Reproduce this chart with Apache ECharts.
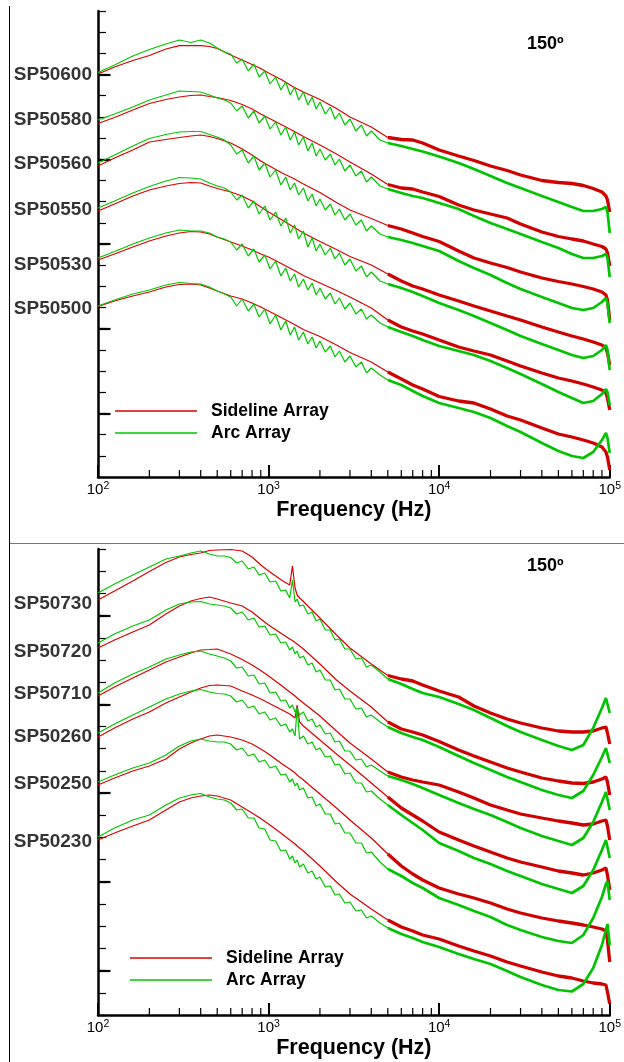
<!DOCTYPE html>
<html><head><meta charset="utf-8">
<script src="https://cdn.jsdelivr.net/npm/echarts@6/dist/echarts.min.js"></script>
<style>html,body{margin:0;padding:0;background:#fff}#c{width:624px;height:1062px}</style>
</head><body><div id="c"></div>
<script>
// ---------------- frequency grids (Hz) ----------------
const freqSidelineTop = [100,125,160,200,250,300,350,400,450,500,600,700,800,900,1000,1200,1400,1600,2000,2500,3000,4000,5000];
const freqArcTop = [100,125,160,200,250,300,350,400,450,500,550,600,650,700,760,820,880,950,1020,1100,1180,1260,1340,1420,1500,1600,1700,1800,1900,2000,2150,2300,2450,2600,2800,3000,3250,3500,3750,4000,4500,5000];
const freqSidelineBottom = [100,125,160,200,250,300,350,400,450,500,600,700,800,900,1000,1200,1330,1380,1430,1470,1520,1600,2000,2500,3000,4000,5000];
const freqArcBottom = [100,125,160,200,250,300,350,400,450,500,550,600,650,700,760,820,880,950,1020,1100,1180,1260,1330,1380,1430,1470,1520,1600,1700,1800,1900,2000,2150,2300,2450,2600,2800,3000,3250,3500,3750,4000,4500,5000];
const freqHigh = [5000,6000,7000,8000,10000,13000,16000,20000,25000,30000,40000,50000,60000,70000,80000,90000,95000,97000,100000];
const xTickDecades = [100,1000,10000,100000];
const xMinorTicks = [200,300,400,500,600,700,800,900,2000,3000,4000,5000,6000,7000,8000,9000,20000,30000,40000,50000,60000,70000,80000,90000];

// ---------------- labels ----------------
const topMics = ['SP50600','SP50580','SP50560','SP50550','SP50530','SP50500'];
const bottomMics = ['SP50730','SP50720','SP50710','SP50260','SP50250','SP50230'];
const topLabelLevels = [402,357,313,267,212,168.7];
const bottomLabelLevels = [411.7,363.3,321,278.3,231,173.3];
const angleLabel = '150º';
const seriesNames = ['Sideline Array','Arc Array'];
const levelMax = 466;          // relative level range (arbitrary units)
const topMinorCount = 22, bottomMinorCount = 21;
const topMajorSteps = [3,7,11,15,19], bottomMajorSteps = [2,6,10,14,18];

// ---------------- top panel levels ----------------
const side50600Lo = [403,410,416.5,421.5,428,431.3,431.5,431.3,430.5,428.5,422,417,412.5,408.5,404,397,390,385,377.5,368.5,360,350,339.5];
const side50580Lo = [353.5,359.5,367,373.5,377.5,380,381.5,382,380.5,379.5,376.5,372.5,368,363,359,352,346,340.5,332,323,315,303,292.5];
const side50560Lo = [311,319,327,335,337.5,339.5,341,342,340.5,338.5,334,328,322,316,311.5,304,298.5,293,284.5,274.5,267,258.5,251.5];
const side50550Lo = [266,273,281,287,291,293.5,294.5,294,291,288.5,285,281,276,270,265,257,250,244,235.5,227.5,220.5,212,203];
const side50530Lo = [217,223,230,236,241,244,245.5,245,243,240,235,231,227,223,220,213,207,201.5,194,186.5,180,169,157];
const side50500Lo = [170.5,176,181,185,190,192.5,193,192,189,186,181,178,174,170,166,159,153,147.5,140.5,132,124.5,115,105];

const side50600Hi = [339.5,337.5,337,334,327,321,316.5,311,306.5,302,296.5,294.5,293.5,291.5,288.5,285,281,277,265];
const side50580Hi = [292.5,289,288,285,280.5,272,267,263,259,253,245,240.5,238,236,233,230.5,228,224,211];
const side50560Hi = [251.5,248,244,240.5,235.5,226,219,214,209.5,205,199,195.5,193,190.5,188,185,182,177,157];
const side50550Hi = [203,196,191,188,182,176,171,166,161,157,150,145,141,138,135,132,129,124,112];
const side50530Hi = [157,150,146,143,137,130,126,122,116,111,104,99,96,93,90,87,84,79,67];
const side50500Hi = [105,98,92,88,80.5,76,74,68,61,57,49,43,40,37,34,30,25,20,7];

const arc50600Lo = [404.5,412,421,427.5,433,437,434.5,437,434,429,425,423,414,418,406,413,400,406,393,400,387,395,382,390,377,385,372,380,368,375,363,370,358,364,352,358,346,352,341,346,337,334];
const arc50580Lo = [357,363,370,377,382,386,385.5,385,382,379,377,374,366,371,359,366,354,361,348,355,342,350,337,345,332,340,326,334,321,328,317,323,312,318,306,312,301,306,295,300,291,288];
const arc50560Lo = [314,322,331,338.5,342.5,345,345.5,345.5,342.5,340,337,332,323,327,314,321,307,314,300,307,292,300,287,294,282,289,276,283,271,278,267,273,262,268,257,263,252,257,246,251,243,240];
const arc50550Lo = [269,276,284,290.5,296,299.5,299,298,294,291,289,285,277,282,269,276,263,271,257,265,251,259,244,252,238,246,230,239,226,233,222,229,218,224,212,218,206,211,200,205,196,193];
const arc50530Lo = [219,225.5,233,239,244,247,246,246,244,240,238,235,227,233,221,228,215,222,208,216,201,209,196,203,190,198,187,194,182,189,178,184,173,179,168,174,163,168,158,162,154,150];
const arc50500Lo = [171,177,183,187,192,194.5,193.5,193,190,186,183,180,171,178,166,173,160,168,153,162,147,156,142,150,137,145,133,140,129,136,125,131,120,126,115,121,110,115,104,109,102,97];

const arc50600Hi = [334,331,328,325.5,320.5,314,308,301,294,289,281,275,270,266,266,268,270,265,244];
const arc50580Hi = [288,284,281,279,274,268,261,254,248,243,235,229,223,219,219,221,223,219,200];
const arc50560Hi = [240,237,234,231,226,216,209,202,194,188,180,174,169,167,169,175,179,174,154];
const arc50550Hi = [193,189,185,181,174,167,161,154,147,141,133,127,122,119,121,127,132,127,107];
const arc50530Hi = [150,145,141,137,131,126,122,116,109,103,93,85,79,74,76,83,88,85,72];
const arc50500Hi = [97,92,86,81,74,69,65,59,51,45,34,26,21,19,25,37,44,39,24];

// ---------------- bottom panel levels ----------------
const side50730Lo = [415,424,434,443.5,452.5,458,460.5,462,464.5,465,465.5,464,458,450,444,434.5,430,449,427,420,417,413.5,397,380,367,351,339.5];
const side50720Lo = [367,375,383,390,401,409,414,416.5,418,416,412,409,403,396,390,381,376,374.5,372.5,371,369,366,351,335,324,308,293];
const side50710Lo = [319,328,337,345,353,358,362,365,365.5,366,361,355.5,350,344.5,339,329,323,321,319,317,315,312,299,284,272,256,243];
const side50260Lo = [278,287,296,303,312,318,323,327,329.5,330,329,324,320,316,312,305,301,299,297,310,293,289,275,261,250,232,218];
const side50250Lo = [230,237,244,249,256,266,272,276,279,280,278,275,271,266,261,251,246,244,242,240,238,235,221,207,195,177,161];
const side50230Lo = [175,182,189,195,205,213,217,219,220,219,215,208,202,196.5,191,181,175,173,171,169,167,164,149,133,121,106,95];

const side50730Hi = [339.5,336,334,330,324,318,309,302,296,292,287,284,283,283,284,287,288,282,271];
const side50720Hi = [293,286,283,280,273.5,265,259,253,247,243,237,234,232,231.5,233,236,238,233,220];
const side50710Hi = [243,238,235,233,230,223,217,210,205,201,197,194,192,190,191,194,195,189,175];
const side50260Hi = [218,207,200,194,183,175,169,163,157,153,148,144,142,140,142,145,147,140,125];
const side50250Hi = [161,149,141,135,127,121,117,112,106,102,97,94,92,90,88,86,84,75,53];
const side50230Hi = [95,88,84,80,76,69,64,59,53,49,43,39,37,34,32,31,30,23,11];

const arc50730Lo = [422,431,440,448,456,459,462,464,461,459,459,457.5,452,454,446,448,440,442,433,434,424,425,417,435,413,416,409,410,401,403,394,396,385,385,375,376,366,366,356,357,348,350,343,336];
const arc50720Lo = [372,381,389,395,405,411,413,413.5,411,410,409,407,401,403,395,397,388,389,380,381,372,373,365,368,361,364,357,359,350,352,343,345,335,335,325,326,316,316,306,307,298,300,293,288];
const arc50710Lo = [322,332,341,348,356,360,363,364,361,359,357,354,347,348,339,340,331,332,322,323,314,315,307,310,303,307,300,303,294,296,288,290,281,282,273,274,264,264,255,256,248,250,244,239];
const arc50260Lo = [282,291,300,308,316,321,324,325.5,323,321.5,321,319,313,315,307,309,301,303,295,297,289,291,283,286,279,307,276,279,271,273,265,267,258,259,250,251,241,242,232,232,223,224,216,210];
const arc50250Lo = [233,240,247,252,260,269,274,276,274,273,273,271,265,267,259,261,253,255,247,249,240,241,233,236,229,232,225,227,217,218,209,211,201,201,191,192,182,182,172,172,162,163,153,146];
const arc50230Lo = [178,187,195,200,210,217,220,221.5,218,216,215,212,205,206,197,197,187,186,175,174,164,165,156,159,152,155,148,151,142,144,136,138,128,129,120,121,112,113,104,105,97,99,92,87];

const arc50730Hi = [336,331,326,322,318,311,305,297,289,283,275,269,265,270,287,307,317,318,302];
const arc50720Hi = [288,282,278,275,268,259,252,245,238,233,225,220,217,224,240,258,267,268,252];
const arc50710Hi = [239,235,231,227,220,212,206,200,193,187,179,174,170,177,193,213,223,224,205];
const arc50260Hi = [210,200,192,185,172,164,157,151,144,139,131,126,122,129,145,165,175,177,157];
const arc50250Hi = [146,139,132,127,117,110,104,98,90,85,78,74,72,80,97,118,131,134,115];
const arc50230Hi = [87,81,77,73,68,61,56,51,44,38,30,25,23.5,31,47,70,85,91,70];

// ---------------- build ----------------
const RED = '#dc0000', GREEN = '#00c800';
const FONT = 'Liberation Sans, Arial, sans-serif';

const panels = [
  { mics: topMics, labels: topLabelLevels, minorCount: topMinorCount, majorSteps: topMajorSteps,
    sideFreq: freqSidelineTop, arcFreq: freqArcTop,
    sideLo: [side50600Lo,side50580Lo,side50560Lo,side50550Lo,side50530Lo,side50500Lo],
    sideHi: [side50600Hi,side50580Hi,side50560Hi,side50550Hi,side50530Hi,side50500Hi],
    arcLo: [arc50600Lo,arc50580Lo,arc50560Lo,arc50550Lo,arc50530Lo,arc50500Lo],
    arcHi: [arc50600Hi,arc50580Hi,arc50560Hi,arc50550Hi,arc50530Hi,arc50500Hi] },
  { mics: bottomMics, labels: bottomLabelLevels, minorCount: bottomMinorCount, majorSteps: bottomMajorSteps,
    sideFreq: freqSidelineBottom, arcFreq: freqArcBottom,
    sideLo: [side50730Lo,side50720Lo,side50710Lo,side50260Lo,side50250Lo,side50230Lo],
    sideHi: [side50730Hi,side50720Hi,side50710Hi,side50260Hi,side50250Hi,side50230Hi],
    arcLo: [arc50730Lo,arc50720Lo,arc50710Lo,arc50260Lo,arc50250Lo,arc50230Lo],
    arcHi: [arc50730Hi,arc50720Hi,arc50710Hi,arc50260Hi,arc50250Hi,arc50230Hi] }
];

const zip = (f, v) => f.map((x, i) => [x, v[i]]);
function lineSeries(name, color, width, data, g, z) {
  return { type: 'line', name, xAxisIndex: g * 2, yAxisIndex: g * 2, data, symbol: 'none', showSymbol: false,
    lineStyle: { color, width }, itemStyle: { color }, silent: true, z, clip: false };
}

const grids = [], xAxes = [], yAxes = [], series = [], titles = [], legends = [];
const gridTops = [11, 549];
const legendPos = [{ left: 115, top: 401 }, { left: 130, top: 948 }];
const titleTops = [35, 557];

panels.forEach((p, g) => {
  grids.push({ left: 98, top: gridTops[g], width: 513, height: levelMax });
  xAxes.push({
    type: 'log', logBase: 10, min: xTickDecades[0], max: xTickDecades[3], gridIndex: g, position: 'bottom',
    axisLine: { onZero: false, lineStyle: { color: '#000', width: 2.5 } },
    axisTick: { inside: true, length: 12, lineStyle: { color: '#000', width: 2 } },
    splitLine: { show: false }, minorTick: { show: false },
    axisLabel: { color: '#000', margin: 4, fontFamily: FONT,
      formatter: v => '{b|10}{s|' + Math.round(Math.log10(v)) + '}',
      rich: { b: { fontSize: 15, lineHeight: 18, fontFamily: FONT, color: '#000' },
              s: { fontSize: 10.5, lineHeight: 10, verticalAlign: 'top', fontFamily: FONT, color: '#000' } } },
    name: 'Frequency (Hz)', nameLocation: 'middle', nameGap: 22,
    nameTextStyle: { color: '#000', fontSize: 21.5, fontWeight: 'bold', fontFamily: FONT }
  });
  xAxes.push({
    type: 'value', min: Math.log10(xTickDecades[0]), max: Math.log10(xTickDecades[3]), gridIndex: g, position: 'bottom',
    axisLine: { show: false, onZero: false }, axisLabel: { show: false }, splitLine: { show: false },
    axisTick: { show: false }
  });
  const step = levelMax / p.minorCount;
  yAxes.push({
    type: 'value', min: 0, max: levelMax, interval: step, gridIndex: g, position: 'left',
    axisLine: { show: true, onZero: false, lineStyle: { color: '#000', width: 2.5 } },
    axisTick: { show: true, inside: true, length: 8, lineStyle: { color: '#000', width: 1.2 } },
    axisLabel: { show: false }, splitLine: { show: false }
  });
  yAxes.push({
    type: 'value', min: 0, max: levelMax, gridIndex: g, position: 'left',
    axisLine: { show: false }, axisLabel: { show: false }, splitLine: { show: false },
    axisTick: { show: true, inside: true, length: 12.5, lineStyle: { color: '#000', width: 2.2 },
      customValues: p.majorSteps.map(k => k * step) }
  });
  p.mics.forEach((m, i) => series.push(lineSeries(seriesNames[0], RED, 1.2, zip(p.sideFreq, p.sideLo[i]), g, 2)));
  p.mics.forEach((m, i) => series.push(lineSeries(seriesNames[1], GREEN, 1.2, zip(p.arcFreq, p.arcLo[i]), g, 3)));
  p.mics.forEach((m, i) => series.push(lineSeries(seriesNames[0], '#d00000', 3.3, zip(freqHigh, p.sideHi[i]), g, 2)));
  p.mics.forEach((m, i) => series.push(lineSeries(seriesNames[1], '#00c400', 2.7, zip(freqHigh, p.arcHi[i]), g, 3)));
  // minor frequency ticks (2..9 x decade) placed through the log axis
  series.push({
    type: 'custom', name: 'xminor' + g, xAxisIndex: g * 2, yAxisIndex: g * 2, silent: true, z: 5, clip: false,
    data: xMinorTicks.map(f => [f, 0]),
    renderItem: (params, api) => {
      const pt = api.coord([api.value(0), api.value(1)]);
      return { type: 'line', shape: { x1: pt[0], y1: pt[1], x2: pt[0], y2: pt[1] - 7 },
        style: { stroke: '#000', lineWidth: 1.2 } };
    }
  });
  series.push({
    type: 'scatter', name: 'mics' + g, xAxisIndex: g * 2, yAxisIndex: g * 2, symbolSize: 0, silent: true,
    data: p.mics.map((m, i) => ({ value: [xTickDecades[0], p.labels[i]], name: m })),
    label: { show: true, position: 'left', distance: 6, formatter: d => d.name,
      color: '#000', fontSize: 19, fontWeight: 'bold', fontFamily: FONT }
  });
  titles.push({ text: angleLabel, left: 527, top: titleTops[g], padding: 0,
    textStyle: { color: '#000', fontSize: 18, fontWeight: 'bold', fontFamily: FONT } });
  legends.push({ data: seriesNames, orient: 'vertical', left: legendPos[g].left, top: legendPos[g].top,
    icon: 'rect', itemWidth: 82, itemHeight: 1.5, itemGap: 2, selectedMode: false, padding: 0,
    textStyle: { color: '#000', fontSize: 17.5, fontWeight: 'bold', fontFamily: FONT, lineHeight: 20, padding: [0, 0, 0, 9] } });
});

const chart = echarts.init(document.getElementById('c'), null, { renderer: 'canvas' });
chart.setOption({
  animation: false,
  backgroundColor: '#fff',
  textStyle: { fontFamily: FONT },
  title: titles, legend: legends, grid: grids, xAxis: xAxes, yAxis: yAxes, series,
  graphic: [
    { type: 'line', silent: true, shape: { x1: 9.5, y1: 6, x2: 9.5, y2: 1062 }, style: { stroke: '#000', lineWidth: 1 } },
    { type: 'line', silent: true, shape: { x1: 10, y1: 543.5, x2: 624, y2: 543.5 }, style: { stroke: '#777', lineWidth: 1 } }
  ]
});
</script></body></html>
